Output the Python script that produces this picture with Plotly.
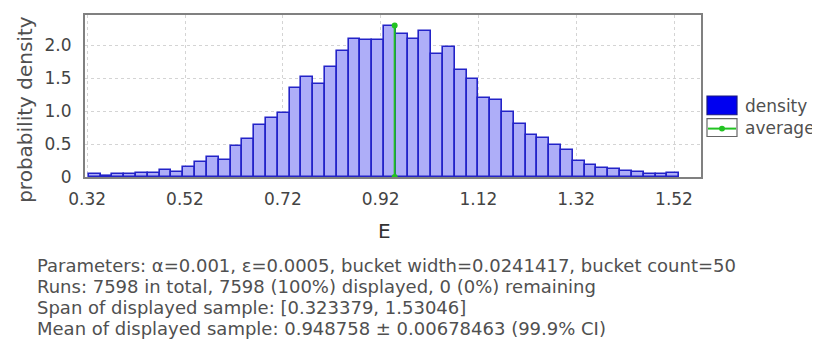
import plotly.graph_objects as go

# ---- data ----
span_min = 0.323379
span_max = 1.53046
bucket_width = 0.0241417
mean_value = 0.948758
density = [0.04, 0.01, 0.04, 0.045, 0.065, 0.065, 0.10, 0.075, 0.15, 0.225,
           0.30, 0.26, 0.465, 0.575, 0.79, 0.89, 0.97, 1.35, 1.525, 1.41,
           1.665, 1.91, 2.10, 2.085, 2.075, 2.30, 2.175, 2.09, 2.215, 1.875,
           1.975, 1.625, 1.485, 1.20, 1.165, 0.985, 0.80, 0.64, 0.585, 0.485,
           0.41, 0.24, 0.175, 0.13, 0.12, 0.09, 0.08, 0.05, 0.05, 0.055]
x_tickvals = [0.32, 0.52, 0.72, 0.92, 1.12, 1.32, 1.52]
x_ticktext = ["0.32", "0.52", "0.72", "0.92", "1.12", "1.32", "1.52"]
y_tickvals = [0, 0.5, 1.0, 1.5, 2.0]
y_ticktext = ["0", "0.5", "1.0", "1.5", "2.0"]
info_lines = [
    "Parameters: \u03b1=0.001, \u03b5=0.0005, bucket width=0.0241417, bucket count=50",
    "Runs: 7598 in total, 7598 (100%) displayed, 0 (0%) remaining",
    "Span of displayed sample: [0.323379, 1.53046]",
    "Mean of displayed sample: 0.948758 \u00b1 0.00678463 (99.9% CI)",
]
legend_labels = ["density", "average"]

# ---- layout geometry (page pixels; the page body adds an 8px offset) ----
OFF = 8
W, H = 820 - OFF, 347 - OFF
L, R, T, B = 85, 701, 13, 177


def fx(p):
    return (p - L) / (R - L)


def fy(p):
    return (B - p) / (B - T)


centers = [span_min + (i + 0.5) * bucket_width for i in range(len(density))]

FONT = "DejaVu Sans"
TXT = "#505050"

fig = go.Figure()
fig.add_trace(go.Bar(
    x=centers, y=density, width=bucket_width,
    marker=dict(color="#aeaef8", line=dict(color="#2323c8", width=1.6)),
    showlegend=False,
))
fig.add_trace(go.Scatter(
    x=[mean_value, mean_value], y=[0, max(density)],
    mode="lines+markers",
    line=dict(color="#22c322", width=2),
    marker=dict(color="#22c322", size=6),
    showlegend=False,
))

annotations = []
shapes = []

annotations.append(dict(
    text="probability density", textangle=-90, x=fx(25), y=fy(109),
    xref="paper", yref="paper", showarrow=False, xanchor="center", yanchor="middle",
    font=dict(family=FONT, size=20, color=TXT)))
annotations.append(dict(
    text="E", x=fx(384), y=fy(232),
    xref="paper", yref="paper", showarrow=False, xanchor="center", yanchor="middle",
    font=dict(family=FONT, size=20, color="#333333")))
for i, line in enumerate(info_lines):
    annotations.append(dict(
        text=line, x=fx(35), y=fy(267 + 21 * i),
        xref="paper", yref="paper", showarrow=False, xanchor="left", yanchor="middle",
        font=dict(family=FONT, size=18, color=TXT)))

shapes.append(dict(type="rect", xref="paper", yref="paper",
                   x0=fx(707), x1=fx(737), y0=fy(95), y1=fy(114),
                   fillcolor="#0000f0", line=dict(color="#1a1a80", width=1.2)))
shapes.append(dict(type="rect", xref="paper", yref="paper",
                   x0=fx(707), x1=fx(737), y0=fy(118), y1=fy(136),
                   fillcolor="white", line=dict(color="#666666", width=1.2)))
shapes.append(dict(type="line", xref="paper", yref="paper",
                   x0=fx(708), x1=fx(736), y0=fy(128), y1=fy(128),
                   line=dict(color="#22c322", width=2)))
shapes.append(dict(type="circle", xref="paper", yref="paper",
                   x0=fx(719), x1=fx(725), y0=fy(125), y1=fy(131),
                   fillcolor="#22c322", line=dict(color="#22c322", width=0)))
for i, lab in enumerate(legend_labels):
    annotations.append(dict(
        text=lab, x=fx(743), y=fy(105 + 22 * i),
        xref="paper", yref="paper", showarrow=False, xanchor="left", yanchor="middle",
        font=dict(family=FONT, size=17, color=TXT)))

fig.update_layout(
    width=W, height=H,
    margin=dict(l=L - OFF, r=820 - R, t=T - OFF, b=347 - B, pad=0),
    paper_bgcolor="white", plot_bgcolor="white",
    bargap=0,
    showlegend=False,
    annotations=annotations,
    shapes=shapes,
    font=dict(family=FONT, color=TXT),
)
fig.update_xaxes(
    range=[0.3155, 1.5752], tickvals=x_tickvals, ticktext=x_ticktext,
    showgrid=True, gridcolor="#d4d4d4", griddash="dot", gridwidth=1,
    showline=True, linecolor="#808080", linewidth=2, mirror=True,
    ticks="", zeroline=False, ticklabelstandoff=6,
    tickfont=dict(family=FONT, size=17, color="#444444"),
)
fig.update_yaxes(
    range=[0, 2.46], tickvals=y_tickvals, ticktext=y_ticktext,
    showgrid=True, gridcolor="#d4d4d4", griddash="dot", gridwidth=1,
    showline=True, linecolor="#808080", linewidth=2, mirror=True,
    ticks="", zeroline=False, ticklabelstandoff=8,
    tickfont=dict(family=FONT, size=17, color="#444444"),
)

fig.write_html("out.html")
